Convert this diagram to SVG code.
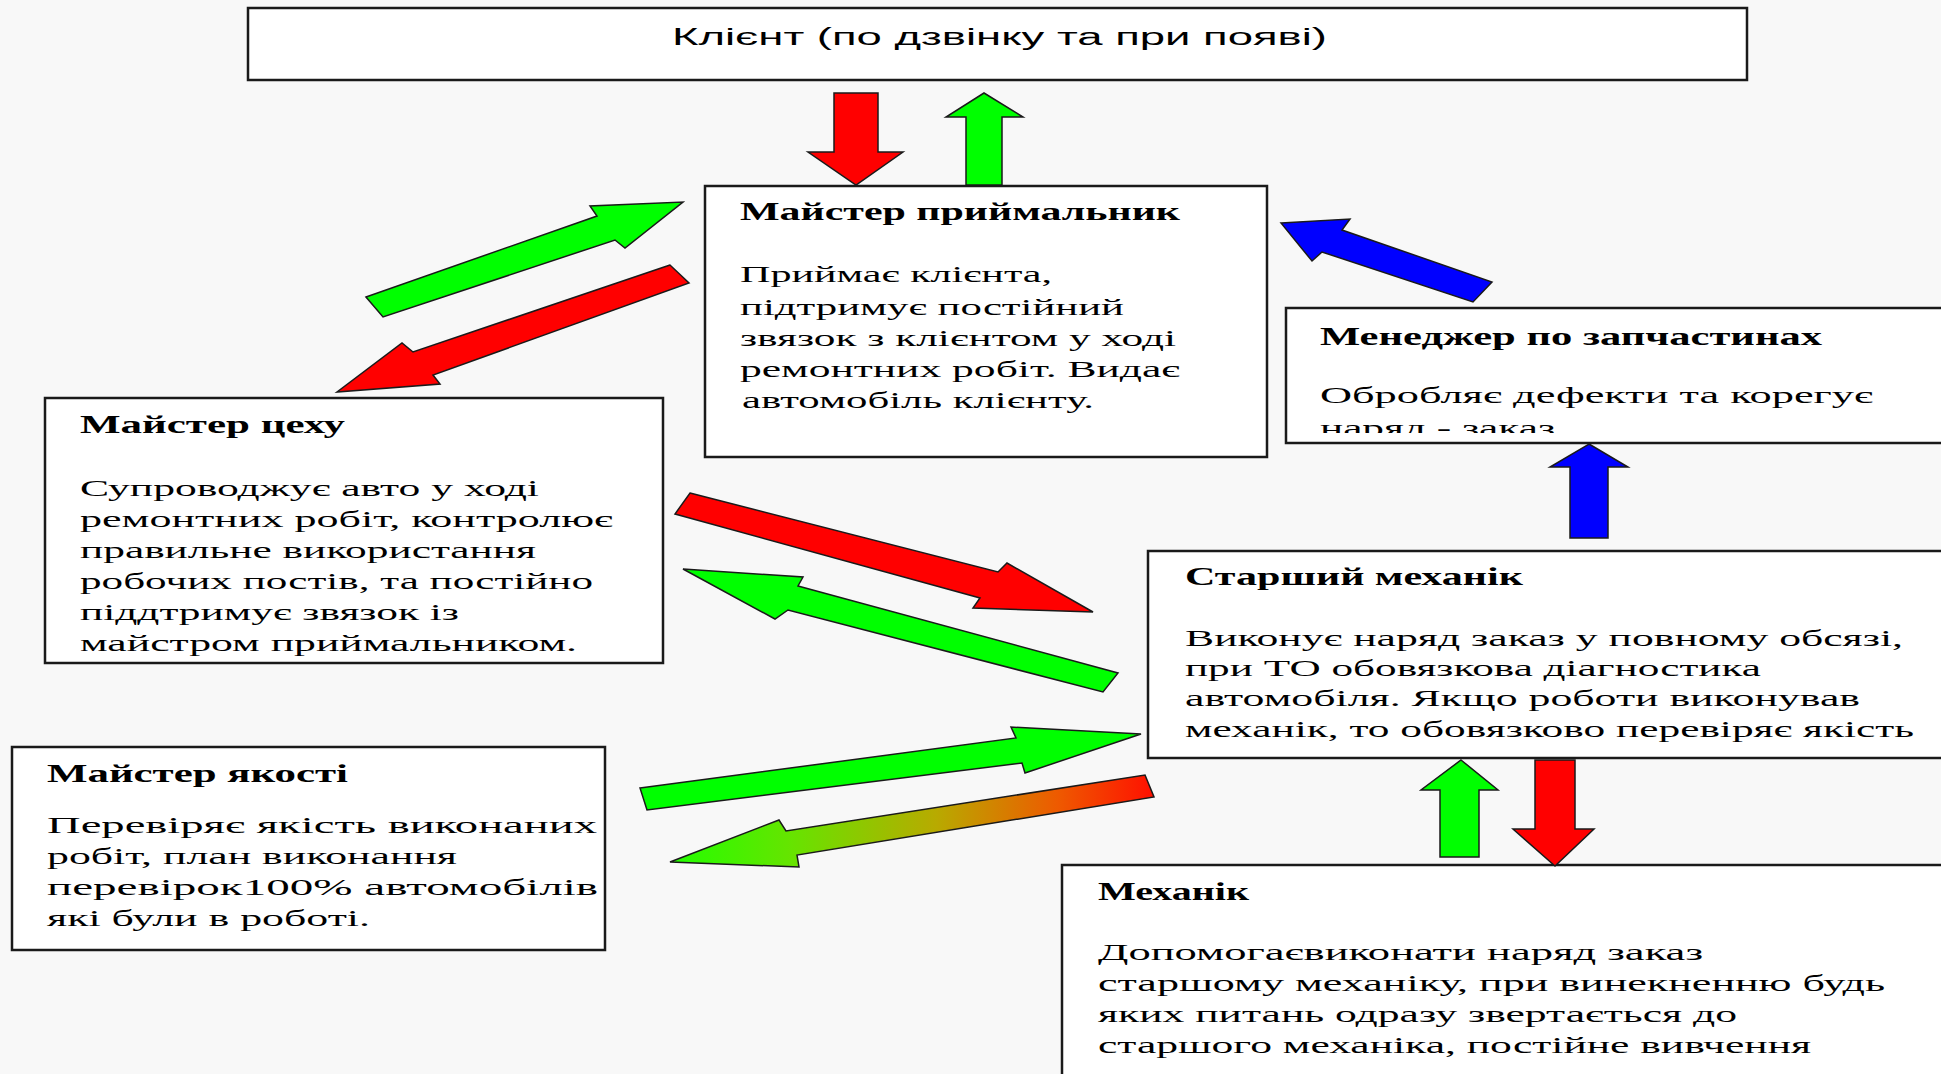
<svg xmlns="http://www.w3.org/2000/svg" width="1941" height="1074" viewBox="0 0 1941 1074">
<style>
.box{fill:#ffffff;stroke:#1a1a1a;stroke-width:2.5}
.ttl{font-family:"Liberation Serif","DejaVu Serif",serif;font-weight:bold;font-size:25px;fill:#000}
.txt{font-family:"Liberation Serif","DejaVu Serif",serif;font-size:23px;fill:#000}
.sans{font-family:"Liberation Sans","Noto Sans",sans-serif;font-size:23px;fill:#000}
.arr{stroke:#1a1a1a;stroke-width:1.5;stroke-linejoin:miter}
.red{fill:#ff0000}.grn{fill:#00ff00}.blu{fill:#0000ff}
</style>
<defs>
<linearGradient id="gr" gradientUnits="userSpaceOnUse" x1="670" y1="0" x2="1154" y2="0">
<stop offset="0" stop-color="#22ff00"/>
<stop offset="0.25" stop-color="#66e400"/>
<stop offset="0.55" stop-color="#b8aa00"/>
<stop offset="0.8" stop-color="#ee5a00"/>
<stop offset="1" stop-color="#ff1000"/>
</linearGradient>
<clipPath id="clipM"><rect x="1286" y="308" width="660" height="125"/></clipPath>
</defs>
<rect x="0" y="0" width="1941" height="1074" fill="#f8f8f8"/>

<g id="client">
<rect class="box" x="248" y="8" width="1499" height="72"/>
<text class="sans" x="672" y="45" textLength="655" lengthAdjust="spacingAndGlyphs">Клієнт (по дзвінку та при появі)</text>
</g>

<g id="master-receiver">
<rect class="box" x="705" y="186" width="562" height="271"/>
<text class="ttl" x="740" y="220" textLength="440" lengthAdjust="spacingAndGlyphs">Майстер приймальник</text>
<text class="txt" x="740" y="282" textLength="312" lengthAdjust="spacingAndGlyphs">Приймає клієнта,</text>
<text class="txt" x="740" y="315" textLength="384" lengthAdjust="spacingAndGlyphs">підтримує постійний</text>
<text class="txt" x="740" y="346" textLength="436" lengthAdjust="spacingAndGlyphs">звязок з клієнтом у ході</text>
<text class="txt" x="740" y="377" textLength="440" lengthAdjust="spacingAndGlyphs">ремонтних робіт. Видає</text>
<text class="txt" x="742" y="408" textLength="352" lengthAdjust="spacingAndGlyphs">автомобіль клієнту.</text>
</g>

<g id="parts-manager">
<rect class="box" x="1286" y="308" width="670" height="135"/>
<text class="ttl" x="1320" y="345" textLength="502" lengthAdjust="spacingAndGlyphs">Менеджер по запчастинах</text>
<text class="txt" x="1320" y="403" textLength="553" lengthAdjust="spacingAndGlyphs">Обробляє дефекти та корегує</text>
<text class="txt" x="1320" y="436" textLength="235" lengthAdjust="spacingAndGlyphs" clip-path="url(#clipM)">наряд - заказ</text>
</g>

<g id="shop-master">
<rect class="box" x="45" y="398" width="618" height="265"/>
<text class="ttl" x="80" y="433" textLength="265" lengthAdjust="spacingAndGlyphs">Майстер цеху</text>
<text class="txt" x="80" y="496" textLength="459" lengthAdjust="spacingAndGlyphs">Супроводжує авто у ході</text>
<text class="txt" x="80" y="527" textLength="533" lengthAdjust="spacingAndGlyphs">ремонтних робіт, контролює</text>
<text class="txt" x="80" y="558" textLength="456" lengthAdjust="spacingAndGlyphs">правильне використання</text>
<text class="txt" x="80" y="589" textLength="513" lengthAdjust="spacingAndGlyphs">робочих постів, та постійно</text>
<text class="txt" x="80" y="620" textLength="379" lengthAdjust="spacingAndGlyphs">піддтримує звязок із</text>
<text class="txt" x="80" y="651" textLength="497" lengthAdjust="spacingAndGlyphs">майстром приймальником.</text>
</g>

<g id="senior-mechanic">
<rect class="box" x="1148" y="551" width="808" height="207"/>
<text class="ttl" x="1185" y="585" textLength="338" lengthAdjust="spacingAndGlyphs">Старший механік</text>
<text class="txt" x="1185" y="646" textLength="718" lengthAdjust="spacingAndGlyphs">Виконує наряд заказ у повному обсязі,</text>
<text class="txt" x="1185" y="676" textLength="576" lengthAdjust="spacingAndGlyphs">при ТО обовязкова діагностика</text>
<text class="txt" x="1185" y="706" textLength="675" lengthAdjust="spacingAndGlyphs">автомобіля. Якщо роботи виконував</text>
<text class="txt" x="1185" y="737" textLength="729" lengthAdjust="spacingAndGlyphs">механік, то обовязково перевіряє якість</text>
</g>

<g id="quality-master">
<rect class="box" x="12" y="747" width="593" height="203"/>
<text class="ttl" x="47" y="782" textLength="301" lengthAdjust="spacingAndGlyphs">Майстер якості</text>
<text class="txt" x="47" y="833" textLength="550" lengthAdjust="spacingAndGlyphs">Перевіряє якість виконаних</text>
<text class="txt" x="47" y="864" textLength="410" lengthAdjust="spacingAndGlyphs">робіт, план виконання</text>
<text class="txt" x="47" y="895" textLength="551" lengthAdjust="spacingAndGlyphs">перевірок100% автомобілів</text>
<text class="txt" x="47" y="926" textLength="323" lengthAdjust="spacingAndGlyphs">які були в роботі.</text>
</g>

<g id="mechanic">
<rect class="box" x="1062" y="865" width="894" height="220"/>
<text class="ttl" x="1098" y="900" textLength="151" lengthAdjust="spacingAndGlyphs">Механік</text>
<text class="txt" x="1098" y="960" textLength="605" lengthAdjust="spacingAndGlyphs">Допомогаєвиконати наряд заказ</text>
<text class="txt" x="1098" y="991" textLength="787" lengthAdjust="spacingAndGlyphs">старшому механіку, при винекненню будь</text>
<text class="txt" x="1098" y="1022" textLength="639" lengthAdjust="spacingAndGlyphs">яких питань одразу звертається до</text>
<text class="txt" x="1098" y="1053" textLength="713" lengthAdjust="spacingAndGlyphs">старшого механіка, постійне вивчення</text>
</g>

<g id="connectors">
<polygon class="arr red" points="834,93 878,93 878,152 903,152 856,185 808,152 834,152"/>
<polygon class="arr grn" points="984,93 1023,117 1002,117 1002,185 966,185 966,117 946,117"/>
<polygon class="arr grn" points="366,297 597,216 590,206 683,202 625,248 615,240 383,317"/>
<polygon class="arr red" points="670,265 413,352 402,343 337,392 440,384 433,375 689,283"/>
<polygon class="arr blu" points="1281,223 1350,219 1342,230 1492,282 1473,302 1322,252 1312,261"/>
<polygon class="arr blu" points="1589,444 1628,467 1608,467 1608,538 1570,538 1570,467 1550,467"/>
<polygon class="arr red" points="690,493 998,572 1007,563 1093,612 973,608 980,598 675,514"/>
<polygon class="arr grn" points="683,569 803,577 798,586 1118,673 1103,692 788,610 775,619"/>
<polygon class="arr grn" points="640,788 1016,738 1011,727 1141,734 1025,773 1022,763 647,810"/>
<polygon class="arr" fill="url(#gr)" points="1145,775 1154,797 797,855 799,867 670,862 779,820 786,831"/>
<polygon class="arr grn" points="1461,760 1498,790 1479,790 1479,857 1440,857 1440,790 1421,790"/>
<polygon class="arr red" points="1535,760 1575,760 1575,829 1594,829 1555,866 1513,829 1535,829"/>
</g>
</svg>
